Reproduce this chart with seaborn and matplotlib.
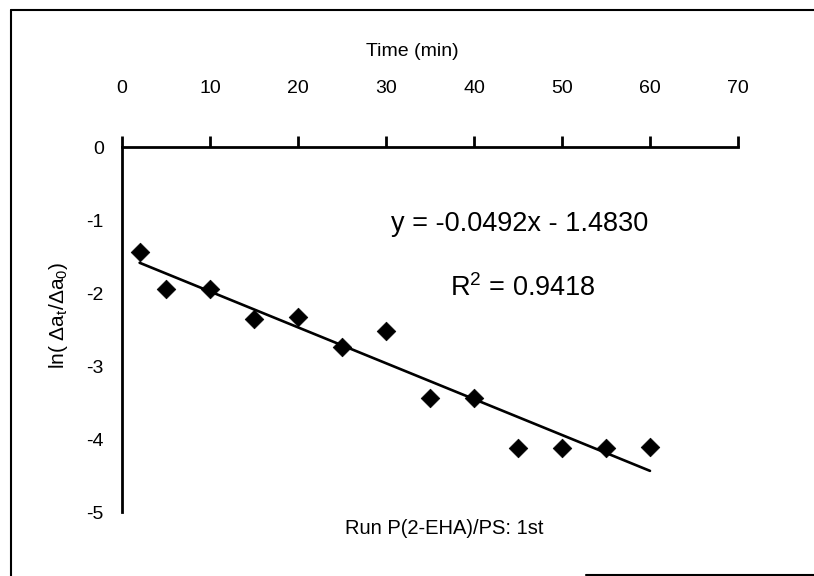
import matplotlib
matplotlib.use("Agg")
import matplotlib.pyplot as plt
import seaborn as sns
import pandas as pd
from matplotlib.lines import Line2D

# data
time_min = [2, 5, 10, 15, 20, 25, 30, 35, 40, 45, 50, 55, 60]
ln_ratio = [-1.43, -1.94, -1.94, -2.35, -2.33, -2.74, -2.52, -3.44, -3.44, -4.12, -4.12, -4.12, -4.11]
slope = -0.0492
intercept = -1.4830
r_squared = 0.9418
x_ticks = [0, 10, 20, 30, 40, 50, 60, 70]
y_ticks = [0, -1, -2, -3, -4, -5]

sns.set_theme(style="white")
plt.rcParams['font.family'] = ['Liberation Sans', 'DejaVu Sans']
plt.rcParams['mathtext.fontset'] = 'custom'
plt.rcParams['mathtext.rm'] = 'Liberation Sans'
plt.rcParams['mathtext.it'] = 'Liberation Sans:italic'
plt.rcParams['text.color'] = 'black'
plt.rcParams['axes.labelcolor'] = 'black'
plt.rcParams['xtick.color'] = 'black'
plt.rcParams['ytick.color'] = 'black'

df = pd.DataFrame({'time': time_min, 'val': ln_ratio})
fit_x = [time_min[0], time_min[-1]]
fit = pd.DataFrame({'time': fit_x, 'val': [slope * x + intercept for x in fit_x]})

fig = plt.figure(figsize=(8.14, 5.76), dpi=100)
ax = fig.add_axes([0.1499, 0.111, 0.7567, 0.633])

sns.lineplot(data=fit, x='time', y='val', color='black', linewidth=1.9, ax=ax)
sns.scatterplot(data=df, x='time', y='val', marker='D', s=90, color='black',
                edgecolor='black', linewidth=0.5, ax=ax, zorder=3)

ax.set_xlim(0, 70)
ax.set_ylim(-5, 0)
ax.set_xticks(x_ticks)
ax.set_yticks(y_ticks)
ax.set_xticklabels([str(t) for t in x_ticks], fontsize=14)
ax.set_yticklabels([str(t) for t in y_ticks], fontsize=14)

for side in ['right', 'bottom']:
    ax.spines[side].set_visible(False)
for side in ['top', 'left']:
    ax.spines[side].set_linewidth(2)
    ax.spines[side].set_color('black')

ax.xaxis.set_ticks_position('top')
ax.xaxis.set_label_position('top')
ax.tick_params(axis='x', direction='out', length=8, width=2, pad=28, colors='black')
ax.tick_params(axis='y', direction='out', length=8, width=2, pad=5, colors='black')

ax.set_xlabel('Time (min)', fontsize=14, color='black')
ax.xaxis.set_label_coords(0.471, 1.25)
ax.set_ylabel(r'ln( $\Delta$a$_\mathrm{t}$/$\Delta$a$_0$)', fontsize=15, color='black')
ax.yaxis.set_label_coords(-0.085, 0.54)

ax.text(0.436, 0.79, f'y = {slope:.4f}x - {abs(intercept):.4f}', transform=ax.transAxes,
        fontsize=19.5, va='center', ha='left', color='black')
ax.text(0.533, 0.615, f'R$^2$ = {r_squared:.4f}', transform=ax.transAxes,
        fontsize=19.5, va='center', ha='left', color='black')
ax.text(0.362, -0.045, 'Run P(2-EHA)/PS: 1st', transform=ax.transAxes,
        fontsize=14.5, va='center', ha='left', color='black')

# page frame around the figure
fig.add_artist(Line2D([0.013, 0.013], [0.0, 0.983], color='black', linewidth=1.5))
fig.add_artist(Line2D([0.013, 1.0], [0.983, 0.983], color='black', linewidth=1.5))
fig.add_artist(Line2D([0.72, 1.0], [0.002, 0.002], color='black', linewidth=1.5))

fig.savefig('out.png', dpi=100)
